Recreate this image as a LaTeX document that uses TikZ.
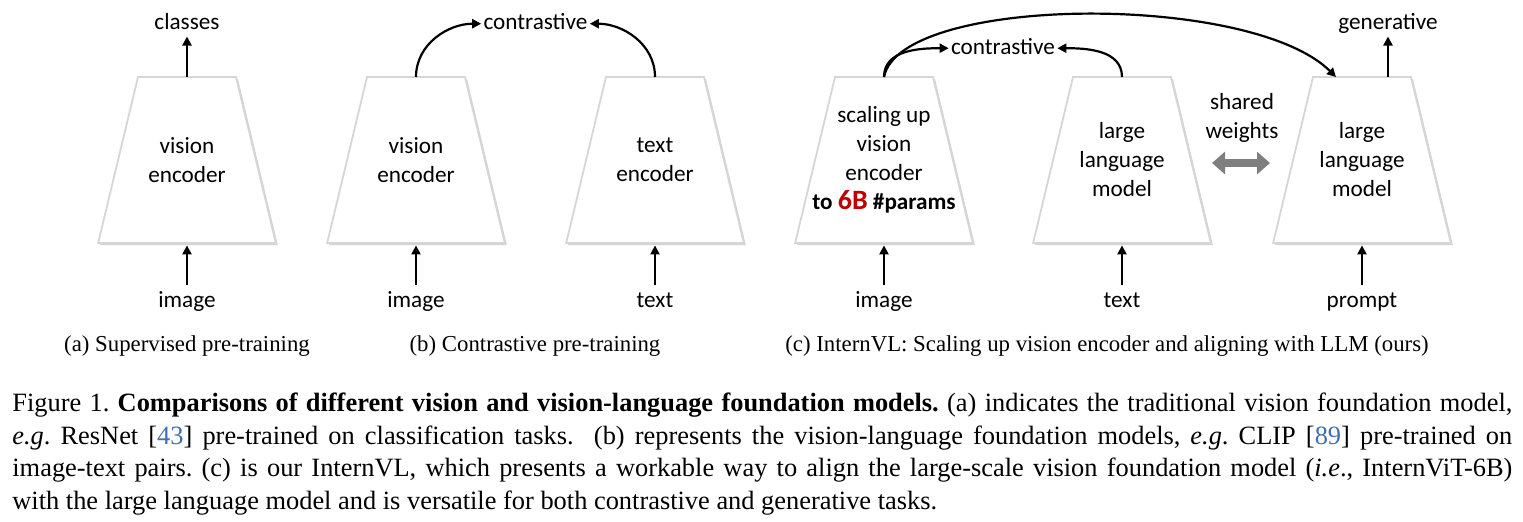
\documentclass[tikz,border=0pt]{standalone}
\usepackage{fontspec}
\setmainfont{Liberation Serif}
\newfontfamily\calibri{Carlito}
\usepackage{tikz}
\usetikzlibrary{arrows.meta, positioning, shapes.geometric, shadows}
\definecolor{ParamRed}{RGB}{192, 0, 0}
\definecolor{CiteBlue}{RGB}{64, 112, 176}
\definecolor{ShareGray}{RGB}{127, 127, 127}

\begin{document}
\begin{tikzpicture}[x=0.5pt, y=0.5pt]
        % --- Styles ---
        \tikzstyle{enc}=[trapezium, trapezium angle=76.5, inner sep=0pt, outer sep=0pt,
            text width=49pt, text height=83pt, text depth=0pt,
            fill=white, draw=black!16, line width=0.9pt,
            drop shadow={shadow xshift=1pt, shadow yshift=-1pt, opacity=0.35}]
        \tikzstyle{txt}=[font=\calibri\fontsize{11.6}{14.5}\selectfont, align=center]
        \tikzstyle{lbl}=[font=\calibri\fontsize{11.6}{14.5}\selectfont, inner sep=1pt,
            text height=8.1pt, text depth=2.3pt, anchor=base]
        \tikzstyle{arr}=[-{Triangle[length=4.5pt, width=4.5pt]}, line width=1.1pt]
        \tikzstyle{share}=[{Triangle[length=6.5pt, width=11pt]}-{Triangle[length=6.5pt, width=11pt]},
            line width=4.2pt, ShareGray]
        \tikzstyle{sub}=[font=\fontsize{11.4}{13.7}\selectfont, inner sep=0pt, anchor=base]

        \useasboundingbox (0,0) rectangle (1523,-521);

        % --- (a) Supervised pre-training ---
        \node[enc, label={[txt]center:vision\\encoder}] (vis1) at (187,-160) {};
        \node[lbl] (cls) at (187,-29.5) {classes};
        \node[lbl] (img1) at (187,-307.5) {image};
        \draw[arr] (vis1.north) -- (cls.south);
        \draw[arr, shorten <=2.2pt, shorten >=1.2pt] (img1.north) -- (vis1.south);
        \node[sub] (suba) at (187,-351) {(a) Supervised pre-training};

        % --- (b) Contrastive pre-training ---
        \node[enc, label={[txt]center:vision\\encoder}] (vis2) at (416,-160) {};
        \node[enc, label={[txt]center:text\\encoder}] (txt2) at (655,-160) {};
        \node[lbl] (con1) at (535.5,-29.5) {contrastive};
        \draw[arr] (vis2.north) to[out=90, in=180] (con1.west);
        \draw[arr] (txt2.north) to[out=90, in=0] (con1.east);
        \node[lbl] (img2) at (416,-307.5) {image};
        \node[lbl] (txtin2) at (655,-307.5) {text};
        \draw[arr, shorten <=2.2pt, shorten >=1.2pt] (img2.north) -- (vis2.south);
        \draw[arr, shorten <=2.2pt, shorten >=1.2pt] (txtin2.north) -- (txt2.south);
        \node[sub] (subb) at (535,-351) {(b) Contrastive pre-training};

        % --- (c) InternVL ---
        \node[enc, label={[txt]center:scaling up\\vision\\encoder\\\textbf{to {\fontsize{14}{14}\selectfont\textcolor{ParamRed}{6B}} \#params}}] (vis3) at (884,-160) {};
        \node[enc, label={[txt]center:large\\language\\model}] (llm1) at (1122,-160) {};
        \node[enc, label={[txt]center:large\\language\\model}] (llm2) at (1362,-160) {};

        \node[lbl] (con2) at (1003,-54) {contrastive};
        \draw[arr] (vis3.north) to[out=90, in=180] (con2.west);
        \draw[arr] (llm1.north) to[out=90, in=0] (con2.east);
        % vision encoder feeds the second LLM
        \draw[arr] (vis3.north) .. controls +(16,82) and +(-86,85) .. ([xshift=-13pt]llm2.north);

        \node[lbl] (gen) at (1388,-29.5) {generative};
        \draw[arr] ([xshift=13pt]llm2.north) -- (gen.south);

        \node[txt] (sw) at (1242,-118) {shared\\weights};
        \draw[share, shorten <=45pt, shorten >=46pt] ([yshift=-1.5pt]llm1.center) -- ([yshift=-1.5pt]llm2.center);

        \node[lbl] (img3) at (884,-307.5) {image};
        \node[lbl] (txtin3) at (1122,-307.5) {text};
        \node[lbl] (prm) at (1362,-307.5) {prompt};
        \draw[arr, shorten <=2.2pt, shorten >=1.2pt] (img3.north) -- (vis3.south);
        \draw[arr, shorten <=2.2pt, shorten >=1.2pt] (txtin3.north) -- (llm1.south);
        \draw[arr, shorten <=2.2pt, shorten >=1.2pt] (prm.north) -- (llm2.south);
        \node[sub] (subc) at (1107,-351) {(c) InternVL: Scaling up vision encoder and aligning with LLM (ours)};

        % --- Figure caption ---
        \node[anchor=north west, inner sep=0pt, text width=750pt, align=justify,
            font=\fontsize{13.2}{16.25}\selectfont\frenchspacing] (cap) at (12,-393)
            {Figure 1. \textbf{Comparisons of different vision and vision-language foundation models.} (a) indicates the traditional vision foundation model,\linebreak
            \textit{e.g}. ResNet [\textcolor{CiteBlue}{43}] pre-trained on classification tasks.\ \ (b) represents the vision-language foundation models, \textit{e.g}. CLIP [\textcolor{CiteBlue}{89}] pre-trained on\linebreak
            image-text pairs. (c) is our InternVL, which presents a workable way to align the large-scale vision foundation model (\textit{i.e}., InternViT-6B)\linebreak
            with the large language model and is versatile for both contrastive and generative tasks.};

\end{tikzpicture}
\end{document}
